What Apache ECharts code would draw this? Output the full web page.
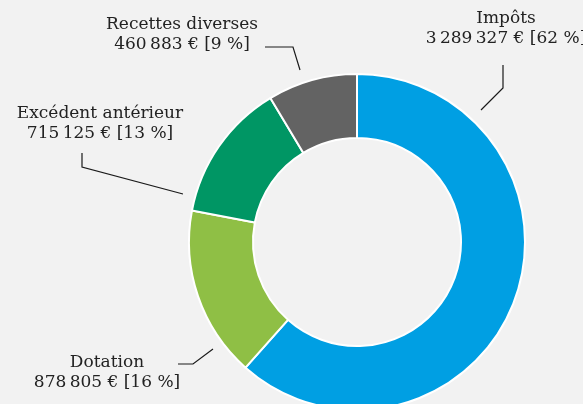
<!DOCTYPE html>
<html>
<head>
<meta charset="utf-8">
<script src="https://cdn.jsdelivr.net/npm/echarts@6/dist/echarts.min.js"></script>
<style>
  html, body {
    margin: 0;
    padding: 0;
    background: #f2f2f2;
  }
  #chart {
    width: 583px;
    height: 404px;
  }
</style>
</head>
<body>
<div id="chart"></div>
<script>
// recettes de fonctionnement
const names = ["Impôts", "Dotation", "Excédent antérieur", "Recettes diverses"];
const amounts = [3289327, 878805, 715125, 460883];
const colors = ["#009fe3", "#8fbf45", "#009664", "#636363"];

// where each label sits and how its leader line runs
const labelSpots = [
  { x: 506, y: 29, line: [[481, 110], [503, 88], [503, 65]] },
  { x: 107, y: 373, line: [[213, 349], [193, 364], [178, 364]] },
  { x: 100, y: 124, line: [[183, 194], [82, 167], [82, 153]] },
  { x: 182, y: 35, line: [[300, 70], [293, 47], [265, 47]] }
];

const fmt = n => String(n).replace(/\B(?=(\d{3})+(?!\d))/g, "\u202f");

const chart = echarts.init(document.getElementById("chart"));

chart.setOption({
  backgroundColor: "#f2f2f2",
  animation: false,
  series: [
    {
      type: "pie",
      center: [357, 242],
      radius: [104, 168],
      startAngle: 90,
      clockwise: true,
      data: names.map((name, i) => ({
        name: name,
        value: amounts[i],
        itemStyle: { color: colors[i] }
      })),
      itemStyle: {
        borderColor: "#ffffff",
        borderWidth: 2
      },
      label: {
        show: true,
        fontFamily: "'DejaVu Serif', serif",
        fontSize: 17,
        lineHeight: 20,
        color: "#222222",
        align: "center",
        overflow: "none",
        formatter: p => p.name + "\n" + fmt(p.value) + " € [" + Math.round(p.percent) + " %]"
      },
      labelLine: {
        show: true,
        lineStyle: { color: "#1a1a1a", width: 1.2 }
      },
      labelLayout: params => {
        const spot = labelSpots[params.dataIndex];
        return {
          x: spot.x,
          y: spot.y,
          align: "center",
          verticalAlign: "middle",
          labelLinePoints: spot.line
        };
      },
      emphasis: { disabled: true }
    }
  ]
});
</script>
</body>
</html>
